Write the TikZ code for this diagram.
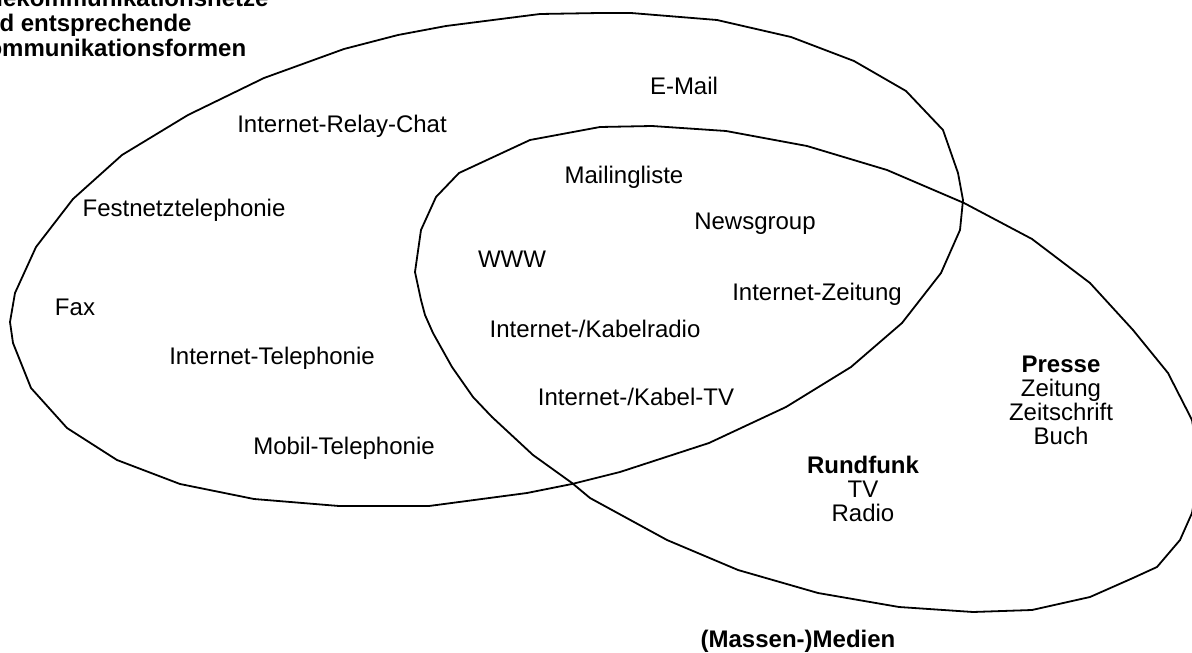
\documentclass[tikz,border=0pt]{standalone}
\usepackage{fontspec}
\setmainfont{Liberation Sans}
% centred and left-aligned stacks of lines, baseline at the first line
\newcommand\centrestack[1]{\vtop{\halign{\hfil##\hfil\cr#1\cr}}}
\newcommand\leftstack[1]{\vtop{\halign{##\hfil\cr#1\cr}}}

\begin{document}
\begin{tikzpicture}[x=1bp,y=-1bp,
  setoutline/.style={line width=1.8bp, line join=round},
  lbl/.style={inner sep=0pt, anchor=base, font=\fontsize{24bp}{24bp}\selectfont},
  heading/.style={lbl, font=\fontsize{24bp}{24bp}\selectfont\bfseries},
  titletext/.style={inner sep=0pt, anchor=base west, font=\fontsize{24bp}{25bp}\selectfont\bfseries},
]
\useasboundingbox (0,0) rectangle (1192,653);

% Telekommunikation
\draw[setoutline] (10,322) -- (15,293) -- (36,247) -- (73,199) -- (122,155)
  -- (188,115) -- (264,78) -- (344,49) -- (398,35) -- (446,26) -- (540,14)
  -- (600,13) -- (631,13) -- (717,20) -- (791,37) -- (854,61) -- (906,91)
  -- (943,130) -- (958,173) -- (963,200) -- (960,230) -- (941,273) -- (902,323)
  -- (851,367) -- (786,407) -- (709,443) -- (620,472) -- (572,484) -- (527,493)
  -- (429,506) -- (339,506) -- (254,499) -- (180,484) -- (117,460) -- (67,428)
  -- (31,388) -- (13,343) -- cycle;

% Massenmedien
\draw[setoutline] (415,272) -- (421,230) -- (436,197) -- (459,173) -- (530,140)
  -- (600,127) -- (652,126) -- (726,131) -- (807,146) -- (887,170) -- (964,203)
  -- (1032,239) -- (1090,283) -- (1133,330) -- (1168,373) -- (1192,420)
  -- (1200,467) -- (1192,513) -- (1180,540) -- (1157,567) -- (1133,578)
  -- (1090,597) -- (1032,610) -- (973,612) -- (899,607) -- (818,593) -- (738,570)
  -- (667,540) -- (590,498) -- (572,483) -- (533,455) -- (492,417) -- (473,397)
  -- (452,367) -- (433,333) -- (425,315) -- (421,300) -- cycle;

\node[titletext] (title) at (-30,7)
  {\leftstack{Telekommunikationsnetze\cr und entsprechende\cr Kommunikationsformen}};

\node[lbl] (email)   at (684,95)  {E-Mail};
\node[lbl] (irc)     at (342,133) {Internet-Relay-Chat};
\node[lbl] (festnetz) at (184,217) {Festnetztelephonie};
\node[lbl] (fax)     at (75,315)  {Fax};
\node[lbl] (mlist)   at (624,184) {Mailingliste};
\node[lbl] (news)    at (755,230) {Newsgroup};
\node[lbl] (www)     at (512,267) {WWW};
\node[lbl] (izeit)   at (817,300) {Internet-Zeitung};
\node[lbl] (iradio)  at (595,337) {Internet-/Kabelradio};
\node[lbl] (itel)    at (272,364) {Internet-Telephonie};
\node[lbl] (itv)     at (636,405) {Internet-/Kabel-TV};
\node[lbl] (mobil)   at (344,454) {Mobil-Telephonie};

\node[lbl] (presse)  at (1061,372)
  {\centrestack{\textbf{Presse}\cr Zeitung\cr Zeitschrift\cr Buch}};
\node[lbl] (rundfunk) at (863,473)
  {\centrestack{\textbf{Rundfunk}\cr TV\cr Radio}};

\node[heading] (medien) at (798,647) {(Massen-)Medien};
\end{tikzpicture}
\end{document}
